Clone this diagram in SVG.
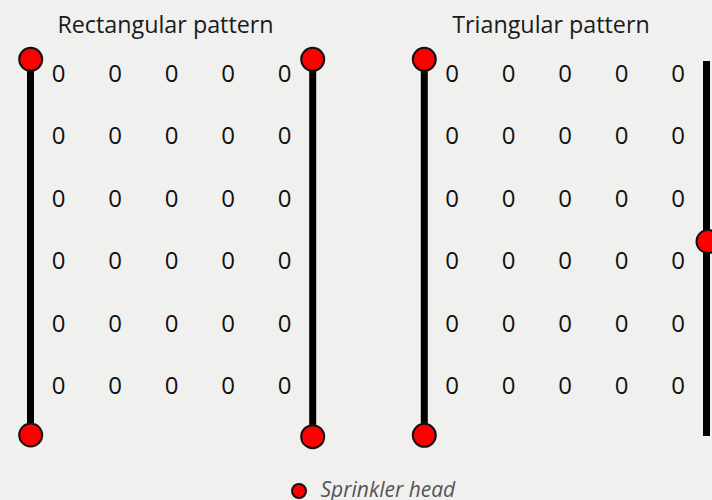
<svg xmlns="http://www.w3.org/2000/svg" width="712" height="500" viewBox="0 0 712 500">
  <defs>
    <style>
      .title { font-family: "Open Sans", "Noto Sans", sans-serif; font-size: 23.3px; fill: #1a1a1a; text-anchor: middle; }
      .cell { font-family: "Open Sans", "Noto Sans", sans-serif; font-size: 24px; fill: #111; text-anchor: middle; }
      .legend { font-family: "Open Sans", "Noto Sans", sans-serif; font-size: 21px; font-style: italic; fill: #555; }
      .pipe { stroke: #000; stroke-width: 7; fill: none; }
      .head { fill: #ff0000; stroke: #111; stroke-width: 2; }
    </style>
    <!-- one row of five area markers -->
    <g id="rowL">
      <text class="cell" x="58.5">0</text>
      <text class="cell" x="115">0</text>
      <text class="cell" x="171.5">0</text>
      <text class="cell" x="228">0</text>
      <text class="cell" x="284.5">0</text>
    </g>
    <g id="rowR">
      <text class="cell" x="452">0</text>
      <text class="cell" x="508.5">0</text>
      <text class="cell" x="565">0</text>
      <text class="cell" x="621.5">0</text>
      <text class="cell" x="678">0</text>
    </g>
  </defs>

  <rect width="712" height="500" fill="#f0f0ef"/>

  <!-- titles -->
  <text class="title" x="165.5" y="32.5">Rectangular pattern</text>
  <text class="title" x="551" y="32.5">Triangular pattern</text>

  <!-- pipes -->
  <g id="connectors">
    <line class="pipe" x1="30.5" y1="60" x2="30.5" y2="435"/>
    <line class="pipe" x1="312.7" y1="60" x2="312.7" y2="437"/>
    <line class="pipe" x1="424.3" y1="60" x2="424.3" y2="435"/>
    <line class="pipe" x1="706.5" y1="61" x2="706.5" y2="436"/>
  </g>

  <!-- coverage grids -->
  <g id="grid-rectangular">
    <use href="#rowL" y="82"/>
    <use href="#rowL" y="144.4"/>
    <use href="#rowL" y="206.8"/>
    <use href="#rowL" y="269.2"/>
    <use href="#rowL" y="331.6"/>
    <use href="#rowL" y="394"/>
  </g>
  <g id="grid-triangular">
    <use href="#rowR" y="82"/>
    <use href="#rowR" y="144.4"/>
    <use href="#rowR" y="206.8"/>
    <use href="#rowR" y="269.2"/>
    <use href="#rowR" y="331.6"/>
    <use href="#rowR" y="394"/>
  </g>

  <!-- sprinkler heads -->
  <g id="head-r1"><circle class="head" cx="30.7" cy="59.3" r="11.5"/></g>
  <g id="head-r2"><circle class="head" cx="30.7" cy="435" r="11.5"/></g>
  <g id="head-r3"><circle class="head" cx="312.7" cy="59.3" r="11.5"/></g>
  <g id="head-r4"><circle class="head" cx="312.7" cy="436.7" r="11.5"/></g>
  <g id="head-t1"><circle class="head" cx="424.3" cy="59.3" r="11.5"/></g>
  <g id="head-t2"><circle class="head" cx="424.3" cy="435.3" r="11.5"/></g>
  <g id="head-t3"><circle class="head" cx="708" cy="241.5" r="11.5"/></g>

  <!-- legend -->
  <g id="legend">
    <circle class="head" cx="299" cy="491" r="7" stroke-width="1.5"/>
    <text class="legend" x="320.5" y="497">Sprinkler head</text>
  </g>
</svg>
